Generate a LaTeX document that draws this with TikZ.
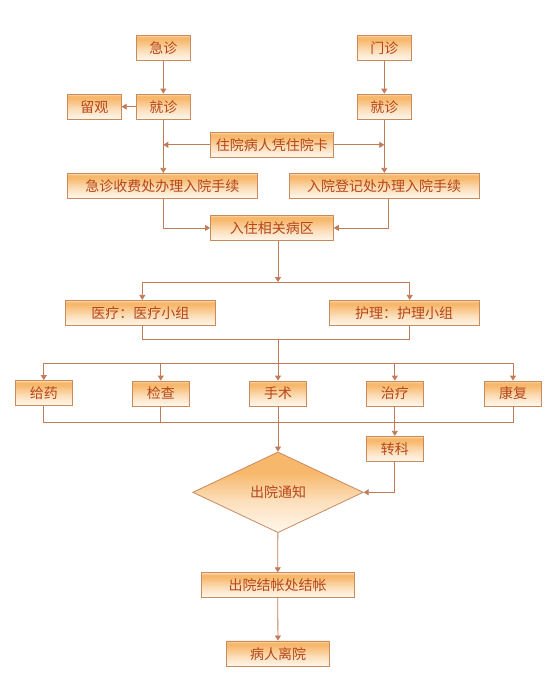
\documentclass[tikz,border=0pt]{standalone}
\usepackage{fontspec}
\setmainfont{Noto Sans CJK SC}
\usetikzlibrary{arrows.meta,shapes.geometric,calc}
\definecolor{edgec}{HTML}{C98A5E}
\definecolor{wirec}{HTML}{C07C58}
\definecolor{txtc}{HTML}{B5461A}
\definecolor{orng}{HTML}{F7B86C}
\definecolor{pale}{HTML}{FFF8EE}
\colorlet{paleorng}{pale!60!orng}
\colorlet{toporng}{orng!45!white}
\pgfdeclareverticalshading{boxshade}{100bp}{color(0bp)=(pale); color(25bp)=(pale); color(45bp)=(paleorng); color(66bp)=(orng); color(71bp)=(orng); color(75bp)=(toporng); color(100bp)=(toporng)}
\pgfdeclareverticalshading{diashade}{100bp}{color(0bp)=(pale); color(25bp)=(pale); color(45bp)=(paleorng); color(62bp)=(orng); color(75bp)=(orng); color(100bp)=(orng)}
\tikzset{
  box/.style={rectangle, draw=edgec, line width=0.8pt, shade, shading=boxshade,
    text=txtc, font=\fontsize{14}{14}\selectfont, inner sep=0pt},
  arr/.style={draw=wirec, line width=0.8pt, -{Triangle[length=5pt,width=6pt]}},
  ln/.style={draw=wirec, line width=0.8pt}
}
\begin{document}
\begin{tikzpicture}[x=1pt,y=-1pt]
\useasboundingbox (0,0) rectangle (551,673);
% top
\node[box, minimum width=54pt, minimum height=25.7pt] (jz1) at (163.3,47.9) {急诊};
\node[box, minimum width=54pt, minimum height=25.7pt] (mz) at (384.3,47.9) {门诊};
\node[box, minimum width=54pt, minimum height=25.3pt] (lg) at (94.3,106.7) {留观};
\node[box, minimum width=54pt, minimum height=25.3pt] (jz2) at (163.3,106.7) {就诊};
\node[box, minimum width=54pt, minimum height=25.3pt] (jz3) at (384.3,106.7) {就诊};
\node[box, minimum width=123pt, minimum height=25pt] (card) at (271.8,144.8) {住院病人凭住院卡};
\node[box, minimum width=190pt, minimum height=25pt] (sf) at (162.3,185.8) {急诊收费处办理入院手续};
\node[box, minimum width=189.7pt, minimum height=25pt] (dj) at (384.2,185.8) {入院登记处办理入院手续};
\node[box, minimum width=123pt, minimum height=25.7pt] (bq) at (271.9,227.9) {入住相关病区};
% teams
\node[box, minimum width=150pt, minimum height=25.4pt] (yl) at (140.3,313) {医疗：医疗小组};
\node[box, minimum width=149.7pt, minimum height=25.4pt] (hl) at (404.2,313) {护理：护理小组};
% five
\node[box, minimum width=57pt, minimum height=25pt] (gy) at (43.8,393) {给药};
\node[box, minimum width=57pt, minimum height=25pt] (jc) at (160.8,393.5) {检查};
\node[box, minimum width=57pt, minimum height=25pt] (ss) at (278,393.5) {手术};
\node[box, minimum width=57pt, minimum height=25pt] (zl) at (394.8,393.5) {治疗};
\node[box, minimum width=57pt, minimum height=25pt] (kf) at (513,393.5) {康复};
\node[box, minimum width=57pt, minimum height=25pt] (zk) at (394.8,448.8) {转科};
\node[diamond, draw=edgec, line width=0.8pt, shade, shading=diashade, text=txtc,
  font=\fontsize{14}{14}\selectfont, inner sep=0pt,
  minimum width=170.6pt, minimum height=80.7pt] (tz) at (278,492.3) {出院通知};
\node[box, minimum width=153.3pt, minimum height=24.6pt] (cy) at (277.7,585) {出院结帐处结帐};
\node[box, minimum width=102.6pt, minimum height=25.7pt] (lk) at (278,653.8) {病人离院};
% helper coordinates
\coordinate (s1) at (278,282);
\coordinate (s1l) at (142.3,282);
\coordinate (s1r) at (409.7,282);
\coordinate (m1) at (278,339);
\coordinate (s2) at (278,363.3);
\coordinate (m2) at (278,422.7);
% connectors top
\draw[arr] (jz1) -- (jz2);
\draw[arr] (mz) -- (jz3);
\draw[arr] (jz2) -- (lg);
\draw[arr] (jz2.south) -- (jz2.south |- sf.north);
\draw[arr] (jz3.south) -- (jz3.south |- dj.north);
\draw[arr] (card.west) -- (jz2.south |- card.west);
\draw[arr] (card.east) -- (jz3.south |- card.east);
\draw[arr] (jz2.south |- sf.south) |- (bq.west);
\draw[arr] ([xshift=4pt]dj.south) |- (bq.east);
% split to teams
\draw[arr] (s1 |- bq.south) -- (s1);
\draw[ln] (s1l) -- (s1r);
\draw[arr] (s1l) -- (s1l |- yl.north);
\draw[arr] (s1r) -- (s1r |- hl.north);
\draw[ln] (s1l |- yl.south) -- (s1l |- m1) -- (s1r |- m1) -- (s1r |- hl.south);
\draw[ln] (m1) -- (s2);
% split to five
\draw[ln] (gy.north |- s2) -- (kf.north |- s2);
\foreach \n in {gy,jc,ss,zl,kf}{\draw[arr] (\n.north |- s2) -- (\n.north);}
\draw[ln] (gy.south) -- (gy.south |- m2) -- (kf.south |- m2) -- (kf.south);
\draw[ln] (jc.south) -- (jc.south |- m2);
\draw[arr] (ss) -- (tz);
\draw[arr] (zl) -- (zk);
\draw[arr] (zk.south) |- (tz.east);
\draw[arr] (tz) -- (cy);
\draw[arr] (cy) -- (lk);
\end{tikzpicture}
\end{document}
